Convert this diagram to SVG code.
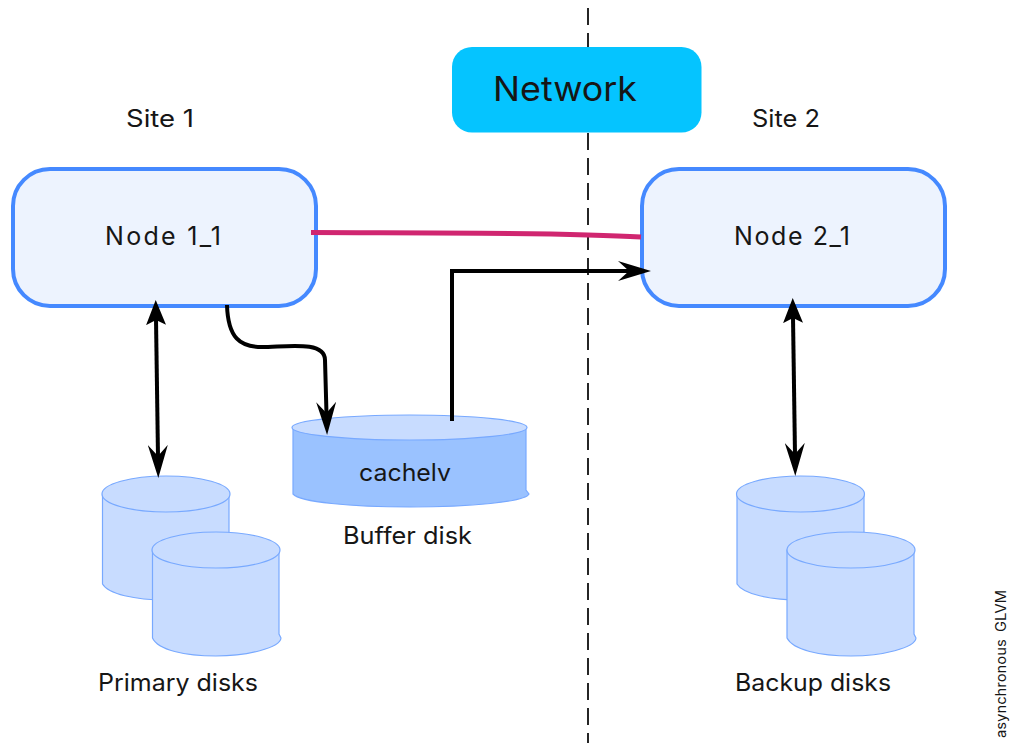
<svg xmlns="http://www.w3.org/2000/svg" width="1010" height="743" viewBox="0 0 1010 743">
<style>
text{font-family:"Inter","Noto Sans","Liberation Sans",sans-serif;fill:#161616;font-size:24px}
.node{fill:#edf3fe;stroke:#4589ff;stroke-width:4}
.disk{fill:#c8dcff;stroke:#78a9ff;stroke-width:1.2}
.buf{fill:#9ac2ff;stroke:#78a9ff;stroke-width:1.2}
.arrow{fill:none;stroke:#000;stroke-width:4}
</style>
<defs>
<marker id="ah" markerUnits="userSpaceOnUse" markerWidth="34" markerHeight="20" refX="12" refY="10" orient="auto-start-reverse" viewBox="0 0 34 20"><path d="M0 0L33 10L0 20L11 10Z" fill="#000"/></marker>
<marker id="ahs" markerUnits="userSpaceOnUse" markerWidth="26" markerHeight="20" refX="6" refY="10" orient="auto-start-reverse" viewBox="0 0 26 20"><path d="M0 0L25 10L0 20L5 10Z" fill="#000"/></marker>
</defs>
<g id="node1"><rect class="node" x="13" y="169" width="303" height="137" rx="37"/><text x="105" y="245" style="font-size:25px" textLength="116">Node 1_1</text></g>
<g id="node2"><rect class="node" x="642" y="169" width="303" height="137" rx="37"/><text x="734" y="245" style="font-size:25px" textLength="116">Node 2_1</text></g>
<g id="buffer"><path class="buf" d="M293 428V494C300 502 350 507 410 507C470 507 525 502 529 494L526 490V428Z"/><ellipse class="disk" cx="409.500" cy="427.500" rx="117.500" ry="12.500"/><text x="359" y="481" textLength="92" lengthAdjust="spacingAndGlyphs">cachelv</text></g>
<g id="primary1"><path class="disk" d="M102.500 494V584C108 594 135 600 166 600S226 594 229 584V494Z"/><ellipse class="disk" cx="166" cy="494" rx="64" ry="18"/></g>
<g id="primary2"><path class="disk" d="M152.500 550V638C158 650 185 656 216 656S280 648 281 638L279 634V550Z"/><ellipse class="disk" cx="216" cy="550" rx="64" ry="18"/></g>
<g id="backup1"><path class="disk" d="M737 494V584C743 594 770 600 801 600S861 594 864 584V494Z"/><ellipse class="disk" cx="800.500" cy="494" rx="64" ry="18"/></g>
<g id="backup2"><path class="disk" d="M787 550V638C793 650 820 656 851 656S915 648 916 638L914 634V550Z"/><ellipse class="disk" cx="851" cy="550" rx="64" ry="18"/></g>
<g id="connectors">
<path d="M588 8V743" fill="none" stroke="#000" stroke-width="1.7" stroke-dasharray="17 8"/>
<path d="M311 232.500C420 233 560 232 641 237" fill="none" stroke="#d02670" stroke-width="5"/>
<path class="arrow" d="M452 421V271H630" marker-end="url(#ah)"/>
<path class="arrow" d="M227 305C228 338 240 347 262 347C285 347 325 340 325 360L326.500 414" marker-end="url(#ah)"/>
<path class="arrow" d="M156 319L158 457" marker-start="url(#ahs)" marker-end="url(#ah)"/>
<path class="arrow" d="M793 317L795 455" marker-start="url(#ahs)" marker-end="url(#ah)"/>
</g>
<g id="network"><rect x="452" y="47" width="249.500" height="85.500" rx="20" fill="#05c4ff"/><text x="493" y="101" style="font-size:34px" textLength="144" lengthAdjust="spacingAndGlyphs">Network</text></g>
<g id="site1"><text x="126" y="127" textLength="68" lengthAdjust="spacingAndGlyphs">Site 1</text></g>
<g id="site2"><text x="752" y="127" textLength="68" lengthAdjust="spacingAndGlyphs">Site 2</text></g>
<text x="343" y="544" textLength="129" lengthAdjust="spacingAndGlyphs">Buffer disk</text>
<text x="98" y="691" textLength="160" lengthAdjust="spacingAndGlyphs">Primary disks</text>
<text x="735" y="691" textLength="156" lengthAdjust="spacingAndGlyphs">Backup disks</text>
<text transform="translate(1006 738) rotate(-90)" style="font-size:14px;word-spacing:3px" textLength="148" lengthAdjust="spacingAndGlyphs">asynchronous GLVM</text>
</svg>
